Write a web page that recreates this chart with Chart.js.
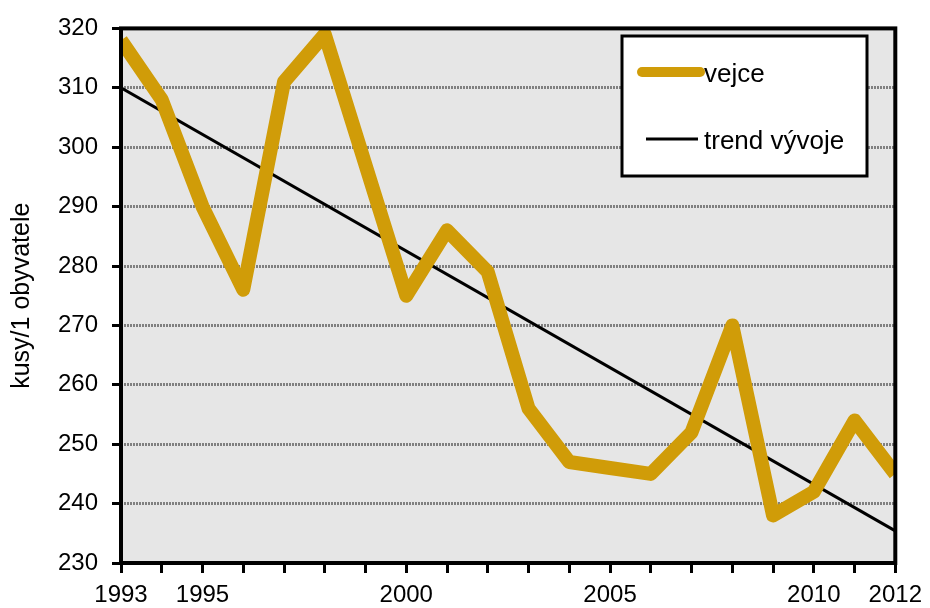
<!DOCTYPE html>
<html>
<head>
<meta charset="utf-8">
<script src="https://cdn.jsdelivr.net/npm/chart.js@4.4.0/dist/chart.umd.min.js"></script>
<style>
  html, body { margin: 0; padding: 0; background: #fff; }
  #wrap { width: 930px; height: 608px; position: relative; }
</style>
</head>
<body>
<div id="wrap"><canvas id="eggChart"></canvas></div>
<script>
// years on the x axis, only some get a label
const years = ['1993', '1994', '1995', '1996', '1997', '1998', '1999', '2000', '2001', '2002',
  '2003', '2004', '2005', '2006', '2007', '2008', '2009', '2010', '2011', '2012'];
const shownYears = ['1993', '1995', '2000', '2005', '2010', '2012'];

// egg consumption, pieces per person
const eggs = [318, 308, 290, 276, 311, 319, 297, 275, 286, 279,
  256, 247, 246, 245, 252, 270, 238, 242, 254, 245];

// trend line end points
const trendYears = ['1993', '2012'];
const trendValues = [310, 235.4];

const yTicks = [230, 240, 250, 260, 270, 280, 290, 300, 310, 320];

const FONT = "'Liberation Sans', Arial, sans-serif";

// grey plot background and black frame
const plotFrame = {
  id: 'plotFrame',
  beforeDatasetsDraw(chart) {
    const a = chart.chartArea;
    const ctx = chart.ctx;
    ctx.save();
    ctx.fillStyle = '#e6e6e6';
    ctx.globalCompositeOperation = 'destination-over';
    ctx.fillRect(a.left, a.top, a.right - a.left, a.bottom - a.top);
    ctx.restore();
  },
  afterDatasetsDraw(chart) {
    const a = chart.chartArea;
    const ctx = chart.ctx;
    ctx.save();
    ctx.strokeStyle = '#000';
    ctx.lineWidth = 4;
    ctx.strokeRect(a.left, a.top, a.right - a.left, a.bottom - a.top);
    ctx.restore();
  }
};

// boxed legend like the original
const boxLegend = {
  id: 'boxLegend',
  afterDraw(chart) {
    const ctx = chart.ctx;
    ctx.save();
    ctx.fillStyle = '#fff';
    ctx.fillRect(622, 36, 245, 140);
    ctx.strokeStyle = '#000';
    ctx.lineWidth = 3;
    ctx.strokeRect(622, 36, 245, 140);

    const rows = [
      { y: 72, x1: 642, x2: 700, w: 10 },
      { y: 139, x1: 646, x2: 698, w: 3 }
    ];
    chart.data.datasets.forEach((ds, i) => {
      const r = rows[i];
      ctx.beginPath();
      ctx.strokeStyle = ds.borderColor;
      ctx.lineWidth = r.w;
      ctx.lineCap = i === 0 ? 'round' : 'butt';
      ctx.moveTo(r.x1, r.y);
      ctx.lineTo(r.x2, r.y);
      ctx.stroke();
      ctx.fillStyle = '#000';
      ctx.font = '26px ' + FONT;
      ctx.textBaseline = 'middle';
      ctx.fillText(ds.label, 704, r.y + 3);
    });
    ctx.restore();
  }
};

const chart = new Chart(document.getElementById('eggChart'), {
  type: 'line',
  data: {
    labels: years,
    datasets: [
      {
        label: 'vejce',
        data: eggs,
        borderColor: '#d09c08',
        borderWidth: 14,
        borderJoinStyle: 'round',
        pointRadius: 0,
        fill: false,
        clip: 0,
        tension: 0
      },
      {
        label: 'trend vývoje',
        data: trendYears.map((y, i) => ({ x: y, y: trendValues[i] })),
        borderColor: '#000',
        borderWidth: 3,
        pointRadius: 0,
        fill: false,
        clip: 0
      }
    ]
  },
  options: {
    responsive: true,
    maintainAspectRatio: false,
    animation: false,
    layout: { padding: { left: 0, top: 18, right: 31, bottom: 0 } },
    plugins: {
      legend: { display: false },
      tooltip: { enabled: false }
    },
    scales: {
      x: {
        type: 'category',
        offset: false,
        border: { display: false },
        grid: {
          drawOnChartArea: false,
          drawTicks: true,
          tickLength: 10,
          tickColor: '#000',
          tickWidth: 3
        },
        ticks: {
          autoSkip: false,
          maxRotation: 0,
          padding: 8,
          color: '#000',
          font: { family: FONT, size: 24 },
          callback: function (value, index) {
            return shownYears.includes(years[index]) ? years[index] : '';
          }
        },
        afterFit: function (scale) { scale.height = 45; }
      },
      y: {
        min: 230,
        max: 320,
        afterBuildTicks: function (axis) {
          axis.ticks = yTicks.map(v => ({ value: v }));
        },
        border: { display: false, dash: [2, 1] },
        grid: {
          color: '#808080',
          lineWidth: 3,
          tickLength: 9,
          tickColor: '#000',
          tickWidth: 3,
          tickBorderDash: []
        },
        ticks: {
          padding: 14,
          color: '#000',
          font: { family: FONT, size: 24 }
        },
        title: {
          display: true,
          text: 'kusy/1 obyvatele',
          color: '#000',
          padding: 7,
          font: { family: FONT, size: 25 }
        },
        afterFit: function (scale) { scale.width = 121; }
      }
    }
  },
  plugins: [plotFrame, boxLegend]
});
</script>
</body>
</html>
